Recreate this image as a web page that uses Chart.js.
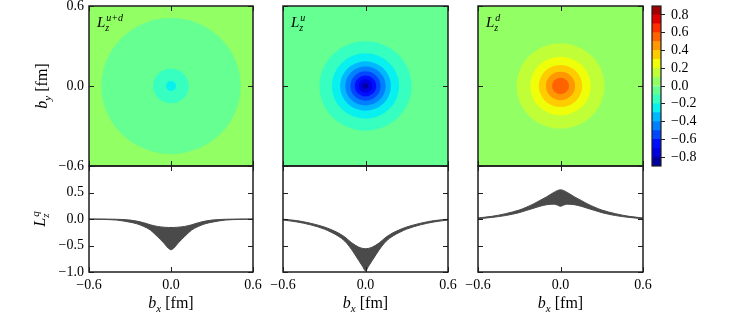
<!DOCTYPE html>
<html>
<head>
<meta charset="utf-8">
<script src="https://cdn.jsdelivr.net/npm/chart.js"></script>
<style>
  body { margin: 0; background: #fff; }
  #wrap { position: relative; width: 747px; height: 320px; overflow: hidden; }
  canvas { position: absolute; }
</style>
</head>
<body>
<div id="wrap"></div>
<script>
// contour levels (colour scale) and tick labels
const contourLevels = [-0.9,-0.8,-0.7,-0.6,-0.5,-0.4,-0.3,-0.2,-0.1,0,0.1,0.2,0.3,0.4,0.5,0.6,0.7,0.8,0.9];
const colorbarTicks = [-0.8,-0.6,-0.4,-0.2,0,0.2,0.4,0.6,0.8];
const mapTicks = [-0.6,0,0.6];
const profileTicks = [-1,-0.5,0,0.5,1];

// top row: value outside, then radius (fm) and value of each inner band
const udBackground = 0.05;
const udRadii = [0.51, 0.13, 0.037];
const udValues = [-0.05, -0.15, -0.25];
const uBackground = -0.05;
const uRadii = [0.335, 0.245, 0.185, 0.147, 0.11, 0.078, 0.05, 0.02];
const uValues = [-0.15, -0.25, -0.35, -0.45, -0.55, -0.65, -0.75, -0.85];
const dBackground = 0.05;
const dRadii = [0.32, 0.22, 0.158, 0.106, 0.062];
const dValues = [0.15, 0.25, 0.35, 0.45, 0.55];

// bottom row: error bands along b_y = 0
const bx = [-0.6,-0.5,-0.4,-0.3,-0.25,-0.2,-0.15,-0.1,-0.05,-0.02,0,0.02,0.05,0.1,0.15,0.2,0.25,0.3,0.4,0.5,0.6];
const udUpper = [0,0,-0.005,-0.02,-0.04,-0.07,-0.11,-0.14,-0.155,-0.16,-0.16,-0.16,-0.155,-0.14,-0.11,-0.07,-0.04,-0.02,-0.005,0,0];
const udLower = [-0.003,-0.008,-0.02,-0.06,-0.09,-0.14,-0.21,-0.33,-0.46,-0.55,-0.58,-0.55,-0.46,-0.33,-0.21,-0.14,-0.09,-0.06,-0.02,-0.008,-0.003];
const uUpper = [-0.005,-0.03,-0.08,-0.15,-0.2,-0.26,-0.34,-0.45,-0.53,-0.555,-0.56,-0.555,-0.53,-0.45,-0.34,-0.26,-0.2,-0.15,-0.08,-0.03,-0.005];
const uLower = [-0.02,-0.055,-0.11,-0.19,-0.25,-0.32,-0.42,-0.58,-0.78,-0.9,-0.98,-0.9,-0.78,-0.58,-0.42,-0.32,-0.25,-0.19,-0.11,-0.055,-0.02];
const dUpper = [0.02,0.05,0.1,0.17,0.22,0.28,0.35,0.42,0.5,0.54,0.55,0.54,0.5,0.42,0.35,0.28,0.22,0.17,0.1,0.05,0.02];
const dLower = [0.005,0.03,0.065,0.12,0.16,0.2,0.24,0.27,0.28,0.26,0.24,0.26,0.28,0.27,0.24,0.2,0.16,0.12,0.065,0.03,0.005];

const SERIF = '"Liberation Serif", "DejaVu Serif", serif';
const INK = '#1e1e1e';
const BAND = '#4a4a4a';

// matplotlib "jet"
const JET = {
  r: [[0,0],[0.35,0],[0.66,1],[0.89,1],[1,0.5]],
  g: [[0,0],[0.125,0],[0.375,1],[0.64,1],[0.91,0],[1,0]],
  b: [[0,0.5],[0.11,1],[0.34,1],[0.65,0],[1,0]]
};
function chan(pts, t) {
  for (let i = 1; i < pts.length; i++) {
    if (t <= pts[i][0]) {
      const [x0,y0] = pts[i-1], [x1,y1] = pts[i];
      return y0 + (y1 - y0) * (t - x0) / (x1 - x0);
    }
  }
  return pts[pts.length-1][1];
}
function jet(v) {
  const lo = contourLevels[0], hi = contourLevels[contourLevels.length-1];
  const t = Math.min(1, Math.max(0, (v - lo) / (hi - lo)));
  const c = k => Math.round(255 * chan(JET[k], t));
  return `rgb(${c('r')},${c('g')},${c('b')})`;
}

function fmt(v) {
  const r = Math.round(v * 10) / 10;
  return (r < 0 ? '\u2212' : '') + Math.abs(r).toFixed(1);
}

// math-ish label: base with sub/superscript and optional plain tail
function mathText(ctx, x, y, p, size, align, rot) {
  const fb = `italic ${size}px ${SERIF}`;
  const fs = `italic ${Math.round(size * 0.68)}px ${SERIF}`;
  const ft = `${size}px ${SERIF}`;
  ctx.save();
  ctx.translate(x, y);
  if (rot) ctx.rotate(rot);
  ctx.font = fb; const wb = ctx.measureText(p.base).width;
  ctx.font = fs;
  const ws = p.sub ? ctx.measureText(p.sub).width : 0;
  const wp = p.sup ? ctx.measureText(p.sup).width + 1 : 0;
  ctx.font = ft; const wt = p.tail ? ctx.measureText(p.tail).width : 0;
  const total = wb + Math.max(ws, wp) + wt;
  let x0 = align === 'center' ? -total / 2 : 0;
  const base = size * 0.33;
  ctx.fillStyle = '#000';
  ctx.textBaseline = 'alphabetic';
  ctx.textAlign = 'left';
  ctx.font = fb; ctx.fillText(p.base, x0, base);
  x0 += wb;
  ctx.font = fs;
  if (p.sub) ctx.fillText(p.sub, x0, base + size * 0.25);
  if (p.sup) ctx.fillText(p.sup, x0 + 1, base - size * 0.42);
  x0 += Math.max(ws, wp);
  if (p.tail) { ctx.font = ft; ctx.fillText(p.tail, x0, base); }
  ctx.restore();
}

// texts in page coordinates, drawn by the chart that owns them
function textPlugin(items) {
  return {
    id: 'texts',
    afterDraw(chart) {
      const ctx = chart.ctx;
      ctx.save();
      ctx.translate(-chart.canvas.offsetLeft, -chart.canvas.offsetTop);
      items.forEach(it => mathText(ctx, it.x, it.y, it.p, it.size, it.align, it.rot));
      ctx.restore();
    }
  };
}

// frame on all four sides with inward ticks
const framePlugin = {
  id: 'frame',
  afterDatasetsDraw(chart) {
    const {ctx, chartArea: a, scales: {x, y}} = chart;
    ctx.save();
    ctx.strokeStyle = INK;
    ctx.lineWidth = 1;
    const seg = (x1, y1, x2, y2) => { ctx.beginPath(); ctx.moveTo(x1, y1); ctx.lineTo(x2, y2); ctx.stroke(); };
    x.ticks.forEach(t => {
      const px = Math.round(x.getPixelForValue(t.value)) + 0.5;
      seg(px, a.top, px, a.top + 5);
      seg(px, a.bottom, px, a.bottom - 5);
    });
    y.ticks.forEach(t => {
      const py = Math.round(y.getPixelForValue(t.value)) + 0.5;
      seg(a.left, py, a.left + 5, py);
      seg(a.right, py, a.right - 5, py);
    });
    ctx.lineWidth = 1.5;
    ctx.strokeRect(a.left, a.top, a.width, a.height);
    ctx.restore();
  }
};

function contourPlugin(bg, radii, values) {
  return {
    id: 'contour',
    beforeDatasetsDraw(chart) {
      const {ctx, chartArea: a, scales: {x, y}} = chart;
      ctx.save();
      ctx.beginPath();
      ctx.rect(a.left, a.top, a.width, a.height);
      ctx.clip();
      ctx.fillStyle = jet(bg);
      ctx.fillRect(a.left, a.top, a.width, a.height);
      const cx = x.getPixelForValue(0), cy = y.getPixelForValue(0);
      radii.forEach((r, i) => {
        const rx = Math.abs(x.getPixelForValue(r) - cx);
        const ry = Math.abs(y.getPixelForValue(r) - cy);
        ctx.fillStyle = jet(values[i]);
        ctx.beginPath();
        ctx.ellipse(cx, cy, rx, ry, 0, 0, 2 * Math.PI);
        ctx.fill();
      });
      ctx.restore();
    }
  };
}

const wrap = document.getElementById('wrap');
// canvas placed so that the plot area lands on rect r (page pixels)
function makeCanvas(r, ext) {
  const c = document.createElement('canvas');
  c.width = r.x1 - r.x0 + ext.left + ext.right;
  c.height = r.y1 - r.y0 + ext.top + ext.bottom;
  c.style.left = (r.x0 - ext.left) + 'px';
  c.style.top = (r.y0 - ext.top) + 'px';
  wrap.appendChild(c);
  return c;
}

// fixed-size axis box, no automatic margins
function fixAxis(size) {
  return s => {
    if (s.isHorizontal()) s.height = size; else s.width = size;
    s.paddingTop = s.paddingBottom = s.paddingLeft = s.paddingRight = 0;
  };
}

function axis(min, max, ticks, showLabels, position, size) {
  return {
    type: 'linear', position, min, max,
    afterBuildTicks: s => { s.ticks = ticks.map(v => ({value: v})); },
    afterFit: fixAxis(size),
    grid: {display: false, drawTicks: false},
    border: {display: false},
    ticks: {
      display: showLabels, autoSkip: false, maxRotation: 0, padding: 5,
      color: '#000', font: {family: SERIF, size: 14},
      callback: v => (Math.abs(v - 1) < 1e-9 ? '' : fmt(v))
    }
  };
}

const baseOpts = {
  responsive: false, animation: false, devicePixelRatio: 1,
  plugins: {legend: {display: false}, tooltip: {enabled: false}},
  events: []
};

const topY0 = 6, midY = 166, botY1 = 272;
const cols = [[89, 253], [283, 448], [478, 643]];
const YAX = 40, XAX = 24;

const panels = [
  {bg: udBackground, radii: udRadii, values: udValues, lower: udLower, upper: udUpper, tag: 'u+d'},
  {bg: uBackground, radii: uRadii, values: uValues, lower: uLower, upper: uUpper, tag: 'u'},
  {bg: dBackground, radii: dRadii, values: dValues, lower: dLower, upper: dUpper, tag: 'd'}
];

panels.forEach((p, i) => {
  const [x0, x1] = cols[i];
  const first = i === 0;
  const yAx = first ? YAX : 0;

  // top: density map
  const extT = {left: first ? x0 : 10, right: 10, top: topY0, bottom: 4};
  const cTop = makeCanvas({x0, x1, y0: topY0, y1: midY}, extT);
  const padT = {left: extT.left - yAx, right: extT.right, top: extT.top, bottom: extT.bottom};
  const topTexts = [{x: x0 + 8, y: 22, p: {base: 'L', sub: 'z', sup: p.tag}, size: 15, align: 'left'}];
  if (first) topTexts.push({x: 42, y: 86, p: {base: 'b', sub: 'y', tail: ' [fm]'}, size: 16, align: 'center', rot: -Math.PI / 2});
  new Chart(cTop, {
    type: 'scatter',
    data: {datasets: []},
    options: Object.assign({}, baseOpts, {
      layout: {padding: padT, autoPadding: false},
      scales: {
        x: axis(-0.6, 0.6, mapTicks, false, 'bottom', 0),
        y: axis(-0.6, 0.6, mapTicks, first, 'left', yAx)
      }
    }),
    plugins: [contourPlugin(p.bg, p.radii, p.values), framePlugin, textPlugin(topTexts)]
  });

  // bottom: band profile
  const extB = {left: first ? x0 : 22, right: 22, top: 4, bottom: 320 - botY1};
  const cBot = makeCanvas({x0, x1, y0: midY, y1: botY1}, extB);
  const padB = {left: extB.left - yAx, right: extB.right, top: extB.top, bottom: extB.bottom - XAX};
  const botTexts = [{x: (x0 + x1) / 2, y: 303, p: {base: 'b', sub: 'x', tail: ' [fm]'}, size: 16, align: 'center'}];
  if (first) botTexts.push({x: 40, y: 219, p: {base: 'L', sub: 'z', sup: 'q'}, size: 16, align: 'center', rot: -Math.PI / 2});
  new Chart(cBot, {
    type: 'line',
    data: {
      datasets: [
        {data: bx.map((v, k) => ({x: v, y: p.lower[k]})), borderColor: BAND, borderWidth: 1, pointRadius: 0, fill: false, cubicInterpolationMode: 'monotone'},
        {data: bx.map((v, k) => ({x: v, y: p.upper[k]})), borderColor: BAND, borderWidth: 1, pointRadius: 0, fill: '-1', backgroundColor: BAND, cubicInterpolationMode: 'monotone'}
      ]
    },
    options: Object.assign({}, baseOpts, {
      layout: {padding: padB, autoPadding: false},
      scales: {
        x: axis(-0.6, 0.6, mapTicks, true, 'bottom', XAX),
        y: axis(-1, 1, profileTicks, first, 'left', yAx)
      }
    }),
    plugins: [framePlugin, textPlugin(botTexts)]
  });
});

// colour bar
const cbExt = {left: 4, right: 44, top: topY0, bottom: 4};
const cCb = makeCanvas({x0: 652, x1: 661, y0: topY0, y1: midY}, cbExt);
const cbBands = contourLevels.slice(0, -1).map((lo, k) => {
  const hi = contourLevels[k + 1];
  return {data: [[lo, hi]], backgroundColor: jet((lo + hi) / 2), borderWidth: 0,
          grouped: false, barPercentage: 1, categoryPercentage: 1};
});
new Chart(cCb, {
  type: 'bar',
  data: {labels: [''], datasets: cbBands},
  options: Object.assign({}, baseOpts, {
    layout: {padding: {left: cbExt.left, right: cbExt.right - 42, top: cbExt.top, bottom: cbExt.bottom}, autoPadding: false},
    scales: {
      x: {type: 'category', display: true, afterFit: fixAxis(0),
          grid: {display: false, drawTicks: false}, border: {display: false}, ticks: {display: false}},
      y: {type: 'linear', position: 'right', min: -0.9, max: 0.9,
          afterBuildTicks: s => { s.ticks = colorbarTicks.map(v => ({value: v})); },
          afterFit: fixAxis(42),
          grid: {display: true, drawOnChartArea: false, drawTicks: true, tickLength: 4, color: INK, lineWidth: 1},
          border: {display: false},
          ticks: {autoSkip: false, padding: 6, color: '#000', font: {family: SERIF, size: 14}, callback: v => fmt(v)}}
    }
  }),
  plugins: [{
    id: 'cbframe',
    afterDatasetsDraw(chart) {
      const {ctx, chartArea: a} = chart;
      ctx.save(); ctx.strokeStyle = INK; ctx.lineWidth = 1.2;
      ctx.strokeRect(a.left, a.top, a.width, a.height);
      ctx.restore();
    }
  }]
});
</script>
</body>
</html>
